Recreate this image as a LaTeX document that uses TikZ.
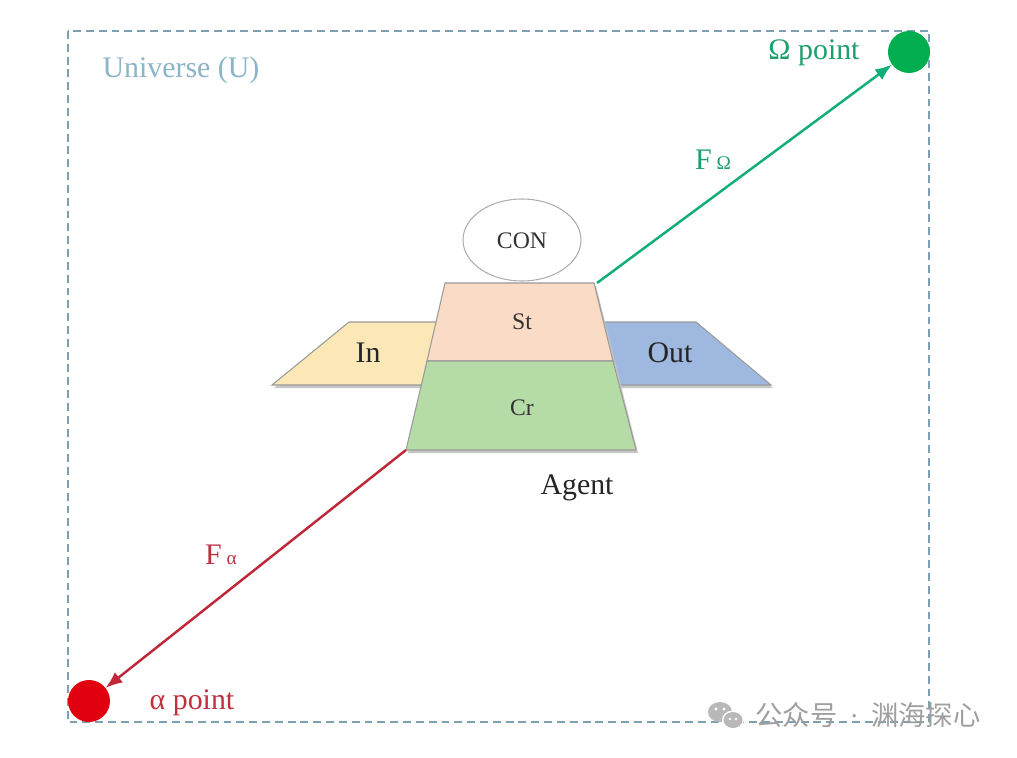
\documentclass[tikz,border=0pt]{standalone}
\usepackage{fontspec}
\setmainfont{Liberation Serif}
\newfontfamily\cjkfont{Noto Sans CJK SC}
\usetikzlibrary{arrows.meta,shapes.geometric}
\definecolor{boxcol}{HTML}{7F9FB2}
\definecolor{unicol}{HTML}{8AB4C8}
\definecolor{omgcol}{HTML}{00AD4F}
\definecolor{omgline}{HTML}{12AE78}
\definecolor{omgtext}{HTML}{1F9F6C}
\definecolor{alpcol}{HTML}{E00010}
\definecolor{alpline}{HTML}{C0283A}
\definecolor{alptext}{HTML}{C23040}
\definecolor{stfill}{HTML}{F9DBC6}
\definecolor{crfill}{HTML}{B5DCA7}
\definecolor{infill}{HTML}{FBE8B6}
\definecolor{outfill}{HTML}{9EB8E0}
\definecolor{edgecol}{HTML}{9A9A9A}
\tikzset{
  panel/.style={draw=edgecol, line width=0.6pt},
  shadowfill/.style={fill=black!22},
  bigtext/.style={font=\fontsize{17}{20}\selectfont},
  smalltext/.style={font=\fontsize{13.5}{16}\selectfont},
  endpoint/.style={circle, minimum size=0.84cm, inner sep=0pt, outer sep=0pt},
  force/.style={line width=1.4pt, -{Latex[length=3.4mm,width=2.6mm]}}
}
\begin{document}
\begin{tikzpicture}[x=0.02cm,y=-0.02cm]
\useasboundingbox (0,0) rectangle (1017,757);
\fill[white] (0,0) rectangle (1017,757);

% universe box
\draw[boxcol, line width=1.1pt, dash pattern=on 4.5pt off 2.8pt] (68,31) rectangle (929,722);
\node[bigtext, text=unicol] (universe) at (181,70) {Universe (U)};

% In / Out wings
\fill[shadowfill, shift={(2,3)}] (272,385) -- (349,322) -- (440,322) -- (440,385) -- cycle;
\fill[shadowfill, shift={(2,3)}] (600,322) -- (696,322) -- (771,385) -- (600,385) -- cycle;
\draw[panel, fill=infill] (272,385) -- (349,322) -- (440,322) -- (440,385) -- cycle;
\draw[panel, fill=outfill] (600,322) -- (696,322) -- (771,385) -- (600,385) -- cycle;

% St / Cr trapezoid
\fill[shadowfill, shift={(2,3)}] (445,283) -- (594,283) -- (636,450) -- (406,450) -- cycle;
\draw[panel, fill=stfill] (445,283) -- (594,283) -- (613,361) -- (427,361) -- cycle;
\draw[panel, fill=crfill] (427,361) -- (613,361) -- (636,450) -- (406,450) -- cycle;
\coordinate (sttr) at (597,283);
\coordinate (crbl) at (406,450);

% CON
\node[draw=edgecol!80, line width=0.6pt, ellipse, minimum width=2.36cm, minimum height=1.64cm] (con) at (522,240) {};
\node[smalltext, text=black!80] (contxt) at (522,241) {CON};
\node[smalltext, text=black!80] (st) at (522,322) {St};
\node[smalltext, text=black!80] (cr) at (522,408) {Cr};
\node[bigtext, text=black!85] (in) at (368,353) {In};
\node[bigtext, text=black!85] (out) at (670,353) {Out};
\node[bigtext, text=black!85] (agent) at (577,488) {Agent};

% endpoints
\node[endpoint, fill=omgcol] (omega) at (909,52) {};
\node[endpoint, fill=alpcol] (alpha) at (89,701) {};
\node[bigtext, text=omgtext] (omegalbl) at (814,53) {Ω point};
\node[bigtext, text=alptext] (alphalbl) at (192,703) {α point};

% forces
\draw[force, omgline] (sttr) -- (omega);
\draw[force, alpline] (crbl) -- (alpha);
\node[bigtext, text=omgtext] (fomega) at (713,160) {F\,{\fontsize{11}{12}\selectfont Ω}};
\node[bigtext, text=alptext] (falpha) at (221,555) {F\,{\fontsize{11}{12}\selectfont α}};

% watermark
\fill[gray!55] (720,712) ellipse [x radius=12, y radius=10];
\fill[white] (733,720) ellipse [x radius=11, y radius=9.5];
\fill[gray!55] (733,720) ellipse [x radius=9.5, y radius=8];
\fill[white] (716,709) circle (1.6) (724,709) circle (1.6) (730,719) circle (1.3) (736,719) circle (1.3);
\node[text=gray!75, font=\cjkfont\fontsize{15.5}{18}\selectfont] (wm) at (868,715) {公众号\hspace{0.45em}{\rmfamily\fontsize{16}{18}\selectfont\textperiodcentered}\hspace{0.45em}渊海探心};
\end{tikzpicture}
\end{document}
